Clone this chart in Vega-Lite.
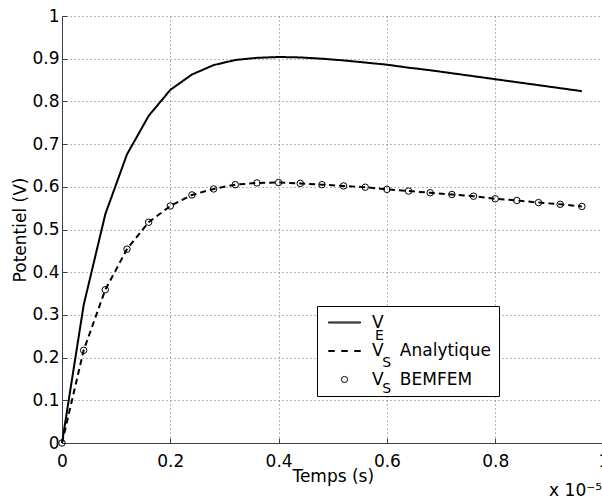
{
  "$schema": "https://vega.github.io/schema/vega-lite/v6.json",
  "width": 540,
  "height": 427,
  "autosize": {"type": "none"},
  "padding": {"left": 62, "top": 16, "right": 0, "bottom": 54},
  "background": "white",
  "title": {"text": "x 10⁻⁵", "orient": "bottom", "anchor": "end", "frame": "group", "fontSize": 17, "font": "DejaVu Sans", "fontWeight": "normal", "color": "black", "offset": -1},
  "data": {"values": [
    {"t": 0, "series": "VE", "v": 0},
    {"t": 0.04, "series": "VE", "v": 0.323},
    {"t": 0.08, "series": "VE", "v": 0.536},
    {"t": 0.12, "series": "VE", "v": 0.676},
    {"t": 0.16, "series": "VE", "v": 0.766},
    {"t": 0.2, "series": "VE", "v": 0.827},
    {"t": 0.24, "series": "VE", "v": 0.863},
    {"t": 0.28, "series": "VE", "v": 0.885},
    {"t": 0.32, "series": "VE", "v": 0.897},
    {"t": 0.36, "series": "VE", "v": 0.902},
    {"t": 0.4, "series": "VE", "v": 0.904},
    {"t": 0.44, "series": "VE", "v": 0.903},
    {"t": 0.48, "series": "VE", "v": 0.9},
    {"t": 0.52, "series": "VE", "v": 0.896},
    {"t": 0.56, "series": "VE", "v": 0.891},
    {"t": 0.6, "series": "VE", "v": 0.886},
    {"t": 0.64, "series": "VE", "v": 0.879},
    {"t": 0.68, "series": "VE", "v": 0.873},
    {"t": 0.72, "series": "VE", "v": 0.866},
    {"t": 0.76, "series": "VE", "v": 0.859},
    {"t": 0.8, "series": "VE", "v": 0.852},
    {"t": 0.84, "series": "VE", "v": 0.845},
    {"t": 0.88, "series": "VE", "v": 0.838},
    {"t": 0.92, "series": "VE", "v": 0.831},
    {"t": 0.96, "series": "VE", "v": 0.824},
    {"t": 0, "series": "VS Analytique", "v": 0},
    {"t": 0.04, "series": "VS Analytique", "v": 0.217},
    {"t": 0.08, "series": "VS Analytique", "v": 0.359},
    {"t": 0.12, "series": "VS Analytique", "v": 0.454},
    {"t": 0.16, "series": "VS Analytique", "v": 0.517},
    {"t": 0.2, "series": "VS Analytique", "v": 0.555},
    {"t": 0.24, "series": "VS Analytique", "v": 0.581},
    {"t": 0.28, "series": "VS Analytique", "v": 0.595},
    {"t": 0.32, "series": "VS Analytique", "v": 0.605},
    {"t": 0.36, "series": "VS Analytique", "v": 0.609},
    {"t": 0.4, "series": "VS Analytique", "v": 0.61},
    {"t": 0.44, "series": "VS Analytique", "v": 0.608},
    {"t": 0.48, "series": "VS Analytique", "v": 0.605},
    {"t": 0.52, "series": "VS Analytique", "v": 0.602},
    {"t": 0.56, "series": "VS Analytique", "v": 0.599},
    {"t": 0.6, "series": "VS Analytique", "v": 0.594},
    {"t": 0.64, "series": "VS Analytique", "v": 0.59},
    {"t": 0.68, "series": "VS Analytique", "v": 0.586},
    {"t": 0.72, "series": "VS Analytique", "v": 0.582},
    {"t": 0.76, "series": "VS Analytique", "v": 0.578},
    {"t": 0.8, "series": "VS Analytique", "v": 0.572},
    {"t": 0.84, "series": "VS Analytique", "v": 0.568},
    {"t": 0.88, "series": "VS Analytique", "v": 0.563},
    {"t": 0.92, "series": "VS Analytique", "v": 0.559},
    {"t": 0.96, "series": "VS Analytique", "v": 0.554},
    {"t": 0, "series": "VS BEMFEM", "v": 0},
    {"t": 0.04, "series": "VS BEMFEM", "v": 0.217},
    {"t": 0.08, "series": "VS BEMFEM", "v": 0.359},
    {"t": 0.12, "series": "VS BEMFEM", "v": 0.454},
    {"t": 0.16, "series": "VS BEMFEM", "v": 0.517},
    {"t": 0.2, "series": "VS BEMFEM", "v": 0.555},
    {"t": 0.24, "series": "VS BEMFEM", "v": 0.581},
    {"t": 0.28, "series": "VS BEMFEM", "v": 0.595},
    {"t": 0.32, "series": "VS BEMFEM", "v": 0.605},
    {"t": 0.36, "series": "VS BEMFEM", "v": 0.609},
    {"t": 0.4, "series": "VS BEMFEM", "v": 0.61},
    {"t": 0.44, "series": "VS BEMFEM", "v": 0.608},
    {"t": 0.48, "series": "VS BEMFEM", "v": 0.605},
    {"t": 0.52, "series": "VS BEMFEM", "v": 0.602},
    {"t": 0.56, "series": "VS BEMFEM", "v": 0.599},
    {"t": 0.6, "series": "VS BEMFEM", "v": 0.594},
    {"t": 0.64, "series": "VS BEMFEM", "v": 0.59},
    {"t": 0.68, "series": "VS BEMFEM", "v": 0.586},
    {"t": 0.72, "series": "VS BEMFEM", "v": 0.582},
    {"t": 0.76, "series": "VS BEMFEM", "v": 0.578},
    {"t": 0.8, "series": "VS BEMFEM", "v": 0.572},
    {"t": 0.84, "series": "VS BEMFEM", "v": 0.568},
    {"t": 0.88, "series": "VS BEMFEM", "v": 0.563},
    {"t": 0.92, "series": "VS BEMFEM", "v": 0.559},
    {"t": 0.96, "series": "VS BEMFEM", "v": 0.554}
  ]},
  "layer": [
    {
      "transform": [{"filter": "datum.series == 'VS BEMFEM'"}],
      "mark": {"type": "point", "filled": false, "color": "black", "strokeWidth": 1, "size": 42, "opacity": 1},
      "encoding": {
        "x": {"field": "t", "type": "quantitative",
          "scale": {"domain": [0, 1], "range": [0, 541.5], "nice": false},
          "axis": {"title": "Temps (s)", "values": [0, 0.2, 0.4, 0.6, 0.8, 1], "format": "~g", "labelFlush": false, "labelPadding": 15, "titlePadding": -1}},
        "y": {"field": "v", "type": "quantitative",
          "scale": {"domain": [0, 1], "nice": false},
          "axis": {"title": "Potentiel (V)", "values": [0, 0.1, 0.2, 0.3, 0.4, 0.5, 0.6, 0.7, 0.8, 0.9, 1], "format": "~g", "labelPadding": 8, "titlePadding": 2}},
        "shape": {"field": "series", "type": "nominal",
          "scale": {"domain": ["VE", "VS Analytique", "VS BEMFEM"],
            "range": ["M-5.19,-0.16H5.19V0.16H-5.19Z", "M-5.19,-0.16H-3.24V0.16H-5.19ZM-0.97,-0.16H0.97V0.16H-0.97ZM3.24,-0.16H5.19V0.16H3.24Z", "circle"]},
          "legend": {
            "orient": "none", "legendX": 255, "legendY": 290, "title": null,
            "strokeColor": "black", "fillColor": "white", "padding": 8, "cornerRadius": 0,
            "symbolSize": 38, "symbolOffset": 11, "labelOffset": 19,
            "symbolStrokeWidth": 1, "symbolStrokeColor": "black", "symbolFillColor": "transparent", "symbolOpacity": 1,
            "labelFont": "DejaVu Sans", "labelFontSize": 17, "labelColor": "black", "labelLimit": 300,
            "rowPadding": 10.5,
            "labelExpr": "datum.value == 'VE' ? 'V' : datum.value == 'VS Analytique' ? 'V\u00a0\u00a0\u00a0Analytique' : 'V\u00a0\u00a0\u00a0BEMFEM'",
            "encode": {"labels": {"update": {"dy": {"value": -2}}}}
          }}
      }
    },
    {
      "transform": [{"filter": "datum.series != 'VS BEMFEM'"}],
      "mark": {"type": "line", "color": "black", "strokeWidth": 2},
      "encoding": {
        "x": {"field": "t", "type": "quantitative"},
        "y": {"field": "v", "type": "quantitative"},
        "strokeDash": {"field": "series", "type": "nominal",
          "scale": {"domain": ["VS Analytique", "VE", "VS BEMFEM"], "range": [[6, 4], [1, 0], [1, 0]]},
          "legend": {
            "orient": "none", "legendX": 256, "legendY": 303.5, "title": null,
            "strokeColor": null, "fillColor": null, "padding": 8,
            "symbolSize": 256, "symbolOpacity": 0, "symbolStrokeWidth": 1, "symbolOffset": 0, "labelOffset": 32,
            "labelFont": "DejaVu Sans", "labelFontSize": 14, "labelColor": "black",
            "rowPadding": 10.5,
            "labelExpr": "datum.value == 'VS Analytique' ? 'E' : '\u200b\u00a0\u2009S'"
          }}
      }
    }
  ],
  "config": {
    "view": {"stroke": null},
    "font": "DejaVu Sans",
    "axis": {
      "labelFont": "DejaVu Sans", "titleFont": "DejaVu Sans",
      "labelFontSize": 17, "titleFontSize": 17, "titleFontWeight": "normal",
      "labelColor": "black", "titleColor": "black",
      "grid": true, "gridColor": "#6e6e6e", "gridDash": [1, 3], "gridWidth": 1, "gridOpacity": 1,
      "domainColor": "#404040", "domainWidth": 1,
      "tickColor": "#404040", "tickSize": -5, "tickWidth": 1,
      "labelOverlap": false
    }
  }
}
